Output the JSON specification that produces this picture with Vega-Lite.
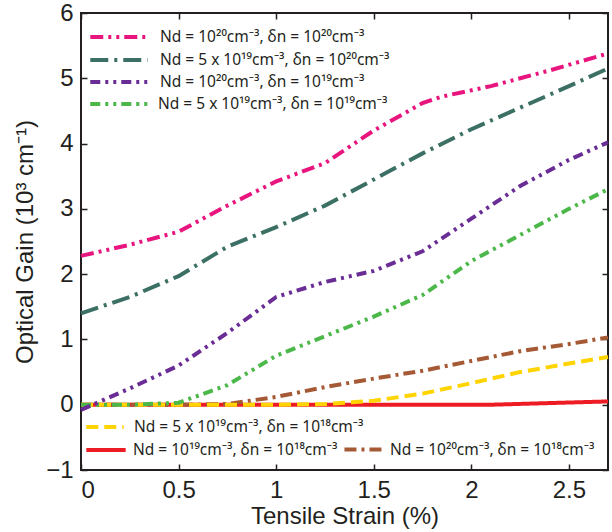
{
  "$schema": "https://vega.github.io/schema/vega-lite/v6.json",
  "width": 527,
  "height": 457,
  "autosize": {"type": "none"},
  "padding": {"left": 81, "top": 13, "right": 4, "bottom": 62},
  "background": "white",
  "config": {
    "view": {"stroke": "#231f20", "strokeWidth": 2},
    "font": "Liberation Sans",
    "axis": {
      "labelFont": "Liberation Sans",
      "titleFont": "Liberation Sans",
      "labelFontSize": 24,
      "titleFontSize": 24,
      "titleFontWeight": "normal",
      "labelColor": "#231f20",
      "titleColor": "#231f20",
      "tickColor": "#231f20",
      "tickSize": -6,
      "tickWidth": 1.5,
      "domain": false,
      "grid": false
    },
    "legend": {
      "labelFont": "Noto Sans",
      "labelColor": "#231f20",
      "labelLimit": 0,
      "title": null,
      "orient": "none",
      "symbolType": "stroke",
      "symbolStrokeWidth": 4,
      "labelFontSize": 15.5
    },
    "line": {"strokeWidth": 4, "strokeCap": "butt", "clip": true}
  },
  "data": {
    "values": [
      {"g": "t1", "s": "Nd = 10²⁰cm⁻³, δn = 10²⁰cm⁻³", "x": 0, "y": 2.28},
      {"g": "t1", "s": "Nd = 10²⁰cm⁻³, δn = 10²⁰cm⁻³", "x": 0.25, "y": 2.45},
      {"g": "t1", "s": "Nd = 10²⁰cm⁻³, δn = 10²⁰cm⁻³", "x": 0.5, "y": 2.65},
      {"g": "t1", "s": "Nd = 10²⁰cm⁻³, δn = 10²⁰cm⁻³", "x": 0.75, "y": 3.05},
      {"g": "t1", "s": "Nd = 10²⁰cm⁻³, δn = 10²⁰cm⁻³", "x": 1.0, "y": 3.42},
      {"g": "t1", "s": "Nd = 10²⁰cm⁻³, δn = 10²⁰cm⁻³", "x": 1.25, "y": 3.7},
      {"g": "t1", "s": "Nd = 10²⁰cm⁻³, δn = 10²⁰cm⁻³", "x": 1.5, "y": 4.2},
      {"g": "t1", "s": "Nd = 10²⁰cm⁻³, δn = 10²⁰cm⁻³", "x": 1.75, "y": 4.62},
      {"g": "t1", "s": "Nd = 10²⁰cm⁻³, δn = 10²⁰cm⁻³", "x": 1.85, "y": 4.72},
      {"g": "t1", "s": "Nd = 10²⁰cm⁻³, δn = 10²⁰cm⁻³", "x": 2.1, "y": 4.88},
      {"g": "t1", "s": "Nd = 10²⁰cm⁻³, δn = 10²⁰cm⁻³", "x": 2.4, "y": 5.12},
      {"g": "t1", "s": "Nd = 10²⁰cm⁻³, δn = 10²⁰cm⁻³", "x": 2.7, "y": 5.38},

      {"g": "t2", "s": "Nd = 5 x 10¹⁹cm⁻³, δn = 10²⁰cm⁻³", "x": 0, "y": 1.4},
      {"g": "t2", "s": "Nd = 5 x 10¹⁹cm⁻³, δn = 10²⁰cm⁻³", "x": 0.25, "y": 1.65},
      {"g": "t2", "s": "Nd = 5 x 10¹⁹cm⁻³, δn = 10²⁰cm⁻³", "x": 0.5, "y": 1.97},
      {"g": "t2", "s": "Nd = 5 x 10¹⁹cm⁻³, δn = 10²⁰cm⁻³", "x": 0.75, "y": 2.42},
      {"g": "t2", "s": "Nd = 5 x 10¹⁹cm⁻³, δn = 10²⁰cm⁻³", "x": 1.0, "y": 2.72},
      {"g": "t2", "s": "Nd = 5 x 10¹⁹cm⁻³, δn = 10²⁰cm⁻³", "x": 1.25, "y": 3.05},
      {"g": "t2", "s": "Nd = 5 x 10¹⁹cm⁻³, δn = 10²⁰cm⁻³", "x": 1.5, "y": 3.45},
      {"g": "t2", "s": "Nd = 5 x 10¹⁹cm⁻³, δn = 10²⁰cm⁻³", "x": 1.75, "y": 3.85},
      {"g": "t2", "s": "Nd = 5 x 10¹⁹cm⁻³, δn = 10²⁰cm⁻³", "x": 2.0, "y": 4.22},
      {"g": "t2", "s": "Nd = 5 x 10¹⁹cm⁻³, δn = 10²⁰cm⁻³", "x": 2.25, "y": 4.55},
      {"g": "t2", "s": "Nd = 5 x 10¹⁹cm⁻³, δn = 10²⁰cm⁻³", "x": 2.5, "y": 4.88},
      {"g": "t2", "s": "Nd = 5 x 10¹⁹cm⁻³, δn = 10²⁰cm⁻³", "x": 2.7, "y": 5.15},

      {"g": "t3", "s": "Nd = 10²⁰cm⁻³, δn = 10¹⁹cm⁻³", "x": 0, "y": -0.08},
      {"g": "t3", "s": "Nd = 10²⁰cm⁻³, δn = 10¹⁹cm⁻³", "x": 0.25, "y": 0.25},
      {"g": "t3", "s": "Nd = 10²⁰cm⁻³, δn = 10¹⁹cm⁻³", "x": 0.5, "y": 0.6},
      {"g": "t3", "s": "Nd = 10²⁰cm⁻³, δn = 10¹⁹cm⁻³", "x": 0.75, "y": 1.1},
      {"g": "t3", "s": "Nd = 10²⁰cm⁻³, δn = 10¹⁹cm⁻³", "x": 1.0, "y": 1.65},
      {"g": "t3", "s": "Nd = 10²⁰cm⁻³, δn = 10¹⁹cm⁻³", "x": 1.25, "y": 1.88},
      {"g": "t3", "s": "Nd = 10²⁰cm⁻³, δn = 10¹⁹cm⁻³", "x": 1.5, "y": 2.05},
      {"g": "t3", "s": "Nd = 10²⁰cm⁻³, δn = 10¹⁹cm⁻³", "x": 1.75, "y": 2.35},
      {"g": "t3", "s": "Nd = 10²⁰cm⁻³, δn = 10¹⁹cm⁻³", "x": 2.0, "y": 2.85},
      {"g": "t3", "s": "Nd = 10²⁰cm⁻³, δn = 10¹⁹cm⁻³", "x": 2.25, "y": 3.35},
      {"g": "t3", "s": "Nd = 10²⁰cm⁻³, δn = 10¹⁹cm⁻³", "x": 2.5, "y": 3.75},
      {"g": "t3", "s": "Nd = 10²⁰cm⁻³, δn = 10¹⁹cm⁻³", "x": 2.7, "y": 4.02},

      {"g": "t4", "s": "Nd = 5 x 10¹⁹cm⁻³, δn = 10¹⁹cm⁻³", "x": 0, "y": 0},
      {"g": "t4", "s": "Nd = 5 x 10¹⁹cm⁻³, δn = 10¹⁹cm⁻³", "x": 0.25, "y": 0},
      {"g": "t4", "s": "Nd = 5 x 10¹⁹cm⁻³, δn = 10¹⁹cm⁻³", "x": 0.5, "y": 0.03},
      {"g": "t4", "s": "Nd = 5 x 10¹⁹cm⁻³, δn = 10¹⁹cm⁻³", "x": 0.75, "y": 0.3},
      {"g": "t4", "s": "Nd = 5 x 10¹⁹cm⁻³, δn = 10¹⁹cm⁻³", "x": 1.0, "y": 0.75},
      {"g": "t4", "s": "Nd = 5 x 10¹⁹cm⁻³, δn = 10¹⁹cm⁻³", "x": 1.25, "y": 1.05},
      {"g": "t4", "s": "Nd = 5 x 10¹⁹cm⁻³, δn = 10¹⁹cm⁻³", "x": 1.5, "y": 1.35},
      {"g": "t4", "s": "Nd = 5 x 10¹⁹cm⁻³, δn = 10¹⁹cm⁻³", "x": 1.75, "y": 1.68},
      {"g": "t4", "s": "Nd = 5 x 10¹⁹cm⁻³, δn = 10¹⁹cm⁻³", "x": 2.0, "y": 2.2},
      {"g": "t4", "s": "Nd = 5 x 10¹⁹cm⁻³, δn = 10¹⁹cm⁻³", "x": 2.25, "y": 2.6},
      {"g": "t4", "s": "Nd = 5 x 10¹⁹cm⁻³, δn = 10¹⁹cm⁻³", "x": 2.5, "y": 3.0},
      {"g": "t4", "s": "Nd = 5 x 10¹⁹cm⁻³, δn = 10¹⁹cm⁻³", "x": 2.7, "y": 3.3},

      {"g": "yel", "s": "Nd = 5 x 10¹⁹cm⁻³, δn = 10¹⁸cm⁻³", "x": 0, "y": 0},
      {"g": "yel", "s": "Nd = 5 x 10¹⁹cm⁻³, δn = 10¹⁸cm⁻³", "x": 0.5, "y": 0},
      {"g": "yel", "s": "Nd = 5 x 10¹⁹cm⁻³, δn = 10¹⁸cm⁻³", "x": 1.0, "y": 0},
      {"g": "yel", "s": "Nd = 5 x 10¹⁹cm⁻³, δn = 10¹⁸cm⁻³", "x": 1.25, "y": 0.01},
      {"g": "yel", "s": "Nd = 5 x 10¹⁹cm⁻³, δn = 10¹⁸cm⁻³", "x": 1.5, "y": 0.06},
      {"g": "yel", "s": "Nd = 5 x 10¹⁹cm⁻³, δn = 10¹⁸cm⁻³", "x": 1.75, "y": 0.17},
      {"g": "yel", "s": "Nd = 5 x 10¹⁹cm⁻³, δn = 10¹⁸cm⁻³", "x": 2.0, "y": 0.33},
      {"g": "yel", "s": "Nd = 5 x 10¹⁹cm⁻³, δn = 10¹⁸cm⁻³", "x": 2.25, "y": 0.5},
      {"g": "yel", "s": "Nd = 5 x 10¹⁹cm⁻³, δn = 10¹⁸cm⁻³", "x": 2.5, "y": 0.63},
      {"g": "yel", "s": "Nd = 5 x 10¹⁹cm⁻³, δn = 10¹⁸cm⁻³", "x": 2.7, "y": 0.73},

      {"g": "brn", "s": "Nd = 10²⁰cm⁻³, δn = 10¹⁸cm⁻³", "x": 0, "y": 0},
      {"g": "brn", "s": "Nd = 10²⁰cm⁻³, δn = 10¹⁸cm⁻³", "x": 0.5, "y": 0},
      {"g": "brn", "s": "Nd = 10²⁰cm⁻³, δn = 10¹⁸cm⁻³", "x": 0.75, "y": 0.01},
      {"g": "brn", "s": "Nd = 10²⁰cm⁻³, δn = 10¹⁸cm⁻³", "x": 1.0, "y": 0.12},
      {"g": "brn", "s": "Nd = 10²⁰cm⁻³, δn = 10¹⁸cm⁻³", "x": 1.25, "y": 0.27},
      {"g": "brn", "s": "Nd = 10²⁰cm⁻³, δn = 10¹⁸cm⁻³", "x": 1.5, "y": 0.4},
      {"g": "brn", "s": "Nd = 10²⁰cm⁻³, δn = 10¹⁸cm⁻³", "x": 1.75, "y": 0.52},
      {"g": "brn", "s": "Nd = 10²⁰cm⁻³, δn = 10¹⁸cm⁻³", "x": 2.0, "y": 0.67},
      {"g": "brn", "s": "Nd = 10²⁰cm⁻³, δn = 10¹⁸cm⁻³", "x": 2.25, "y": 0.82},
      {"g": "brn", "s": "Nd = 10²⁰cm⁻³, δn = 10¹⁸cm⁻³", "x": 2.5, "y": 0.93},
      {"g": "brn", "s": "Nd = 10²⁰cm⁻³, δn = 10¹⁸cm⁻³", "x": 2.7, "y": 1.03},

      {"g": "red", "s": "Nd = 10¹⁹cm⁻³, δn = 10¹⁸cm⁻³", "x": 0, "y": 0},
      {"g": "red", "s": "Nd = 10¹⁹cm⁻³, δn = 10¹⁸cm⁻³", "x": 1.0, "y": 0},
      {"g": "red", "s": "Nd = 10¹⁹cm⁻³, δn = 10¹⁸cm⁻³", "x": 2.1, "y": 0},
      {"g": "red", "s": "Nd = 10¹⁹cm⁻³, δn = 10¹⁸cm⁻³", "x": 2.7, "y": 0.05}
    ]
  },
  "resolve": {
    "scale": {"color": "independent", "strokeDash": "independent"},
    "axis": {"x": "independent", "y": "independent"}
  },
  "layer": [
    {
      "transform": [{"filter": "datum.g === 'red'"}],
      "mark": {"type": "line"},
      "encoding": {
        "x": {"field": "x", "type": "quantitative", "scale": {"domain": [0, 2.7], "nice": false, "zero": false}, "axis": null},
        "y": {"field": "y", "type": "quantitative", "scale": {"domain": [-1, 6], "nice": false, "zero": false}, "axis": null},
        "color": {
          "field": "s", "type": "nominal",
          "scale": {"domain": ["Nd = 10¹⁹cm⁻³, δn = 10¹⁸cm⁻³"], "range": ["#ED1C24"]},
          "legend": {"legendX": 3, "legendY": 415, "symbolSize": 1550, "labelOffset": 5}
        },
        "strokeDash": {
          "field": "s", "type": "nominal",
          "scale": {"domain": ["Nd = 10¹⁹cm⁻³, δn = 10¹⁸cm⁻³"], "range": [[1, 0]]},
          "legend": {"legendX": 3, "legendY": 415, "symbolSize": 1550, "labelOffset": 5}
        }
      }
    },
    {
      "transform": [{"filter": "datum.g === 'brn'"}],
      "mark": {"type": "line"},
      "encoding": {
        "x": {"field": "x", "type": "quantitative", "scale": {"domain": [0, 2.7], "nice": false, "zero": false}, "axis": null},
        "y": {"field": "y", "type": "quantitative", "scale": {"domain": [-1, 6], "nice": false, "zero": false}, "axis": null},
        "color": {
          "field": "s", "type": "nominal",
          "scale": {"domain": ["Nd = 10²⁰cm⁻³, δn = 10¹⁸cm⁻³"], "range": ["#A55A35"]},
          "legend": {"legendX": 261, "legendY": 415, "symbolSize": 1450, "labelOffset": 5}
        },
        "strokeDash": {
          "field": "s", "type": "nominal",
          "scale": {"domain": ["Nd = 10²⁰cm⁻³, δn = 10¹⁸cm⁻³"], "range": [[12, 5, 3, 5]]},
          "legend": {"legendX": 261, "legendY": 415, "symbolSize": 1450, "labelOffset": 5}
        }
      }
    },
    {
      "transform": [{"filter": "datum.g === 'yel'"}],
      "mark": {"type": "line"},
      "encoding": {
        "x": {"field": "x", "type": "quantitative", "scale": {"domain": [0, 2.7], "nice": false, "zero": false},
          "axis": {"orient": "top", "labels": false, "title": null, "values": [0, 0.5, 1, 1.5, 2, 2.5]}},
        "y": {"field": "y", "type": "quantitative", "scale": {"domain": [-1, 6], "nice": false, "zero": false},
          "axis": {"orient": "right", "labels": false, "title": null, "values": [-1, 0, 1, 2, 3, 4, 5, 6]}},
        "color": {
          "field": "s", "type": "nominal",
          "scale": {"domain": ["Nd = 5 x 10¹⁹cm⁻³, δn = 10¹⁸cm⁻³"], "range": ["#FFD400"]},
          "legend": {"legendX": 3, "legendY": 393, "symbolSize": 1400, "labelOffset": 8}
        },
        "strokeDash": {
          "field": "s", "type": "nominal",
          "scale": {"domain": ["Nd = 5 x 10¹⁹cm⁻³, δn = 10¹⁸cm⁻³"], "range": [[12, 6]]},
          "legend": {"legendX": 3, "legendY": 393, "symbolSize": 1400, "labelOffset": 8}
        }
      }
    },
    {
      "transform": [{"filter": "datum.g === 't4'"}],
      "mark": {"type": "line"},
      "encoding": {
        "x": {"field": "x", "type": "quantitative", "scale": {"domain": [0, 2.7], "nice": false, "zero": false}, "axis": null},
        "y": {"field": "y", "type": "quantitative", "scale": {"domain": [-1, 6], "nice": false, "zero": false}, "axis": null},
        "color": {
          "field": "s", "type": "nominal",
          "scale": {"domain": ["Nd = 5 x 10¹⁹cm⁻³, δn = 10¹⁹cm⁻³"], "range": ["#4CB84A"]},
          "legend": {"legendX": 7, "legendY": 60, "symbolSize": 3300, "labelOffset": 8}
        },
        "strokeDash": {
          "field": "s", "type": "nominal",
          "scale": {"domain": ["Nd = 5 x 10¹⁹cm⁻³, δn = 10¹⁹cm⁻³"], "range": [[10, 5, 3, 5, 3, 5]]},
          "legend": {"legendX": 7, "legendY": 60, "symbolSize": 3300, "labelOffset": 8}
        }
      }
    },
    {
      "transform": [{"filter": "datum.g === 't3'"}],
      "mark": {"type": "line"},
      "encoding": {
        "x": {"field": "x", "type": "quantitative", "scale": {"domain": [0, 2.7], "nice": false, "zero": false}, "axis": null},
        "y": {"field": "y", "type": "quantitative", "scale": {"domain": [-1, 6], "nice": false, "zero": false}, "axis": null},
        "color": {
          "field": "s", "type": "nominal",
          "scale": {"domain": ["Nd = 10²⁰cm⁻³, δn = 10¹⁹cm⁻³"], "range": ["#6A2D95"]},
          "legend": {"legendX": 7, "legendY": 38, "symbolSize": 3300, "labelOffset": 10}
        },
        "strokeDash": {
          "field": "s", "type": "nominal",
          "scale": {"domain": ["Nd = 10²⁰cm⁻³, δn = 10¹⁹cm⁻³"], "range": [[10, 5, 3, 5, 3, 5]]},
          "legend": {"legendX": 7, "legendY": 38, "symbolSize": 3300, "labelOffset": 10}
        }
      }
    },
    {
      "transform": [{"filter": "datum.g === 't2'"}],
      "mark": {"type": "line"},
      "encoding": {
        "x": {"field": "x", "type": "quantitative", "scale": {"domain": [0, 2.7], "nice": false, "zero": false}, "axis": null},
        "y": {"field": "y", "type": "quantitative", "scale": {"domain": [-1, 6], "nice": false, "zero": false}, "axis": null},
        "color": {
          "field": "s", "type": "nominal",
          "scale": {"domain": ["Nd = 5 x 10¹⁹cm⁻³, δn = 10²⁰cm⁻³"], "range": ["#3C7065"]},
          "legend": {"legendX": 7, "legendY": 16, "symbolSize": 3300, "labelOffset": 10}
        },
        "strokeDash": {
          "field": "s", "type": "nominal",
          "scale": {"domain": ["Nd = 5 x 10¹⁹cm⁻³, δn = 10²⁰cm⁻³"], "range": [[18, 6, 3, 6]]},
          "legend": {"legendX": 7, "legendY": 16, "symbolSize": 3300, "labelOffset": 10}
        }
      }
    },
    {
      "transform": [{"filter": "datum.g === 't1'"}],
      "mark": {"type": "line"},
      "encoding": {
        "x": {"field": "x", "type": "quantitative", "scale": {"domain": [0, 2.7], "nice": false, "zero": false},
          "axis": {"orient": "bottom", "title": "Tensile Strain (%)", "values": [0, 0.5, 1, 1.5, 2, 2.5], "format": "~g", "labelPadding": 14, "titlePadding": 2}},
        "y": {"field": "y", "type": "quantitative", "scale": {"domain": [-1, 6], "nice": false, "zero": false},
          "axis": {"orient": "left", "title": "Optical Gain (10³ cm⁻¹)", "values": [-1, 0, 1, 2, 3, 4, 5, 6], "format": "d", "labelPadding": 14, "titlePadding": 8}},
        "color": {
          "field": "s", "type": "nominal",
          "scale": {"domain": ["Nd = 10²⁰cm⁻³, δn = 10²⁰cm⁻³"], "range": ["#E8157F"]},
          "legend": {"legendX": 7, "legendY": -7, "symbolSize": 3300, "labelOffset": 10}
        },
        "strokeDash": {
          "field": "s", "type": "nominal",
          "scale": {"domain": ["Nd = 10²⁰cm⁻³, δn = 10²⁰cm⁻³"], "range": [[13, 5, 3, 5, 3, 5]]},
          "legend": {"legendX": 7, "legendY": -7, "symbolSize": 3300, "labelOffset": 10}
        }
      }
    }
  ]
}
